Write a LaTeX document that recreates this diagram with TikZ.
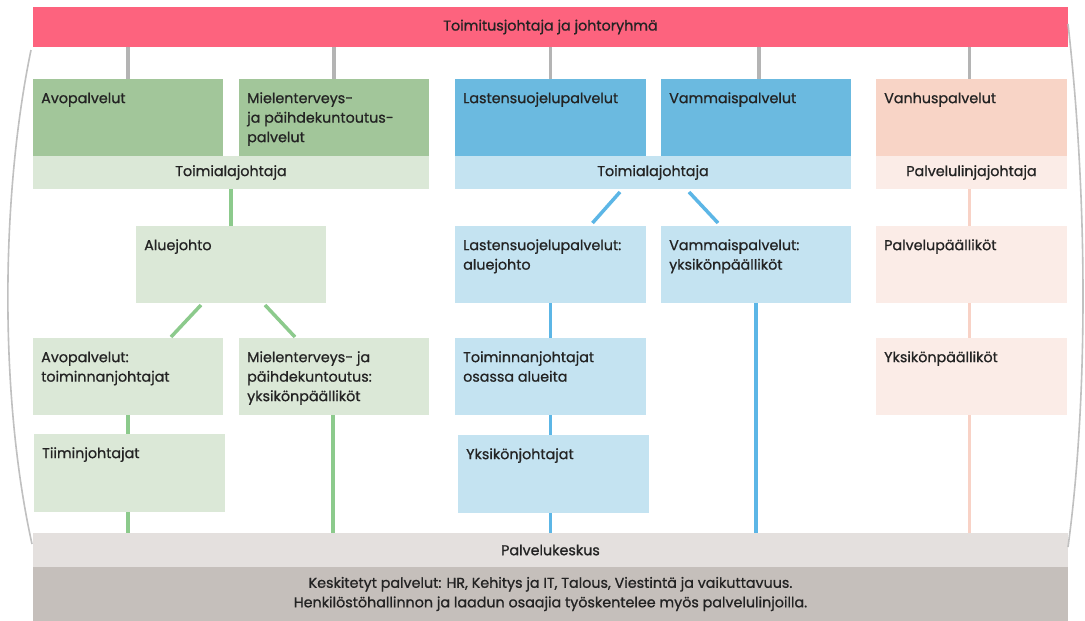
\documentclass[tikz,border=0pt]{standalone}
\usepackage{fontspec}
\setmainfont{Poppins}[FakeBold=0.9]
\definecolor{redbar}{RGB}{253,99,126}
\definecolor{dkgreen}{RGB}{162,198,154}
\definecolor{ltgreen}{RGB}{219,232,215}
\definecolor{lngreen}{RGB}{140,202,140}
\definecolor{dkblue}{RGB}{107,186,224}
\definecolor{ltblue}{RGB}{196,227,241}
\definecolor{lnblue}{RGB}{92,182,230}
\definecolor{dkpink}{RGB}{248,212,198}
\definecolor{ltpink}{RGB}{251,236,231}
\definecolor{lnpink}{RGB}{248,210,198}
\definecolor{lngray}{RGB}{180,180,180}
\definecolor{pkgray}{RGB}{228,224,222}
\definecolor{ksgray}{RGB}{197,191,187}
\definecolor{arcgray}{RGB}{192,192,192}
\definecolor{txt}{RGB}{35,35,35}
\newcommand{\myfont}{\fontsize{14.3}{19.5}\selectfont}
\newcommand{\cellat}[7]{%
  \node[cell, fill=#6, minimum width={(#4-#2)*1pt}, minimum height={(#5-#3)*1pt},
        label={[lbl]north west:\strut #7}] (#1) at ({(#2+#4)/2},{(#3+#5)/2}) {};}
\newcommand{\bandat}[7]{%
  \node[cell, fill=#6, minimum width={(#4-#2)*1pt}, minimum height={(#5-#3)*1pt}] (#1) at ({(#2+#4)/2},{(#3+#5)/2}) {#7};}
\begin{document}
\begin{tikzpicture}[x=1pt,y=-1pt,
  cell/.style={rectangle, draw=none, inner sep=0pt, outer sep=0pt, text=txt, font=\myfont},
  lbl/.style={anchor=north west, inner sep=0pt, xshift=8pt, yshift=-10.3pt, align=left, text=txt, font=\myfont},
  gconn/.style={draw=lngray, line width=3.5pt},
  grconn/.style={draw=lngreen, line width=3.5pt},
  blconn/.style={draw=lnblue, line width=3.5pt},
  pkconn/.style={draw=lnpink, line width=3.5pt},
  arcline/.style={draw=arcgray, line width=1.6pt}]
\useasboundingbox[fill=white] (0,0) rectangle (1085,621);
% top bar
\bandat{top}{33}{7}{1068}{47}{redbar}{Toimitusjohtaja ja johtoryhmä}
% row 1
\cellat{avo}{33}{79}{223}{156}{dkgreen}{Avopalvelut}
\cellat{mie}{239}{79}{429}{156}{dkgreen}{Mielenterveys-\\ja päihdekuntoutus-\\palvelut}
\cellat{las}{455}{79}{646}{156}{dkblue}{Lastensuojelupalvelut}
\cellat{vam}{661}{79}{851}{156}{dkblue}{Vammaispalvelut}
\cellat{van}{876}{79}{1067}{156}{dkpink}{Vanhuspalvelut}
% bands
\bandat{tg}{33}{156}{429}{189}{ltgreen}{Toimialajohtaja}
\bandat{tb}{455}{156}{851}{189}{ltblue}{Toimialajohtaja}
\bandat{tp}{876}{156}{1067}{189}{ltpink}{Palvelulinjajohtaja}
% green column
\cellat{alue}{136}{226}{326}{303}{ltgreen}{Aluejohto}
\cellat{avo2}{33}{338}{223}{415}{ltgreen}{Avopalvelut:\\toiminnanjohtajat}
\cellat{mie2}{239}{338}{429}{415}{ltgreen}{Mielenterveys- ja\\päihdekuntoutus:\\yksikönpäälliköt}
\cellat{tiimi}{34}{434}{225}{512}{ltgreen}{Tiiminjohtajat}
% blue column
\cellat{lasA}{455}{226}{646}{303}{ltblue}{Lastensuojelupalvelut:\\aluejohto}
\cellat{vamA}{661}{226}{851}{303}{ltblue}{Vammaispalvelut:\\yksikönpäälliköt}
\cellat{toimO}{455}{338}{646}{415}{ltblue}{Toiminnanjohtajat\\osassa alueita}
\cellat{yks}{458}{435}{649}{513}{ltblue}{Yksikönjohtajat}
% pink column
\cellat{pp}{876}{226}{1067}{303}{ltpink}{Palvelupäälliköt}
\cellat{yp}{876}{338}{1067}{415}{ltpink}{Yksikönpäälliköt}
% bottom
\bandat{pk}{33}{533}{1068}{567}{pkgray}{Palvelukeskus}
\node[cell, fill=ksgray, minimum width=1035pt, minimum height=54pt, align=center] (kes) at (550.5,594)
  {Keskitetyt palvelut: HR, Kehitys ja IT, Talous, Viestintä ja vaikuttavuus.\\Henkilöstöhallinnon ja laadun osaajia työskentelee myös palvelulinjoilla.};
% gray connectors
\draw[gconn] (top.south -| avo.north) -- (avo.north);
\draw[gconn] (top.south -| mie.north) -- (mie.north);
\draw[gconn] (top.south -| las.north) -- (las.north);
\draw[gconn] ([xshift=3pt]top.south -| vam.north) -- ([xshift=3pt]vam.north);
\draw[gconn] ([xshift=-2pt]top.south -| van.north) -- ([xshift=-2pt]van.north);
% green connectors
\draw[grconn] (tg.south) -- (alue.north);
\draw[grconn] ([xshift=-30pt,yshift=-2pt]alue.south) -- ([xshift=43pt,yshift=1pt]avo2.north);
\draw[grconn] ([xshift=34pt,yshift=-2pt]alue.south) -- ([xshift=-39pt,yshift=1pt]mie2.north);
\draw[grconn] (avo2.south) -- (tiimi.north -| avo2.south);
\draw[grconn] (tiimi.south -| avo2.south) -- (pk.north -| avo2.south);
\draw[grconn] ([xshift=-1pt]mie2.south) -- ([xshift=-1pt]pk.north -| mie2.south);
% blue connectors
\draw[blconn] ([xshift=-33pt,yshift=-3pt]tb.south) -- ([xshift=42pt,yshift=3pt]lasA.north);
\draw[blconn] ([xshift=36pt,yshift=-3pt]tb.south) -- ([xshift=-38pt,yshift=3pt]vamA.north);
\draw[blconn] (lasA.south) -- (toimO.north);
\draw[blconn] (toimO.south) -- (yks.north -| toimO.south);
\draw[blconn] (yks.south -| toimO.south) -- (pk.north -| toimO.south);
\draw[blconn] (vamA.south) -- (pk.north -| vamA.south);
% pink connectors
\draw[pkconn] ([xshift=-2pt]tp.south) -- ([xshift=-2pt]pp.north);
\draw[pkconn] ([xshift=-2pt]pp.south) -- ([xshift=-2pt]yp.north);
\draw[pkconn] ([xshift=-2pt]yp.south) -- ([xshift=-2pt]pk.north -| yp.south);
% side arcs
\draw[arcline] ([xshift=-2pt,yshift=-3pt]top.south west) .. controls (0,200) and (0,400) .. ([xshift=-1pt,yshift=6pt]pk.west);
\draw[arcline] ([yshift=3pt]top.east) .. controls (1088,200) and (1088,400) .. ([yshift=3pt]pk.east);
\end{tikzpicture}
\end{document}
